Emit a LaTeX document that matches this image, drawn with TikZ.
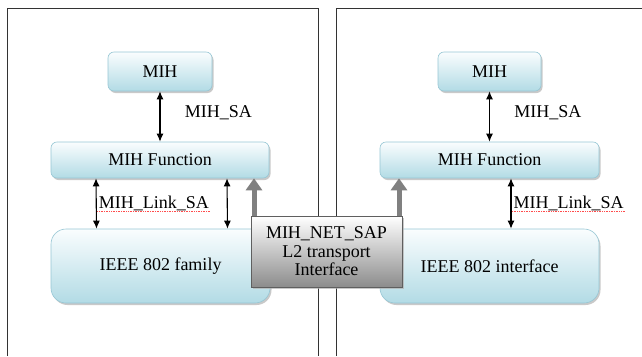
\documentclass[tikz,border=0pt]{standalone}
\usepackage{fontspec}
\setmainfont{Liberation Serif}
\newfontfamily\diagfont{Liberation Serif}
\usetikzlibrary{shapes, arrows.meta, positioning, shadows}
\definecolor{cyanTop}{RGB}{250,253,254}
\definecolor{cyanBot}{RGB}{178,219,229}
\definecolor{cyanLine}{RGB}{150,198,212}
\definecolor{sapBot}{RGB}{140,140,140}
\definecolor{sapLine}{RGB}{95,95,95}
\definecolor{netGray}{RGB}{128,128,128}

\begin{document}
\begin{tikzpicture}[
			x=1pt, y=-1pt,
			font=\diagfont\fontsize{18}{19}\selectfont,
			frame/.style={draw=black!80, line width=.8pt},
			block/.style={rectangle, rounded corners=6pt, draw=cyanLine, line width=.6pt, top color=cyanTop, bottom color=cyanBot, text centered, drop shadow={shadow xshift=1.5pt, shadow yshift=-2pt, fill=black!30, opacity=.7}},
			bigblock/.style={block, rounded corners=15pt, minimum width=219pt, minimum height=74pt},
			sapbox/.style={rectangle, draw=sapLine, line width=.6pt, top color=white, bottom color=sapBot, align=center, font=\diagfont\fontsize{18}{18.5}\selectfont, minimum width=151pt, minimum height=71pt, drop shadow={shadow xshift=1.5pt, shadow yshift=-2pt, fill=black!30, opacity=.7}},
			sa/.style={{Latex[length=8pt, width=7pt]}-{Latex[length=8pt, width=7pt]}, line width=1.1pt},
			netarrow/.style={-{Triangle[width=16pt, length=12pt]}, line width=5pt, netGray},
			squiggle/.style={red!70, densely dotted, line width=.7pt},
			]
			\useasboundingbox (0,0) rectangle (642,356);

			% Frames
			\draw[frame] (7,356) -- (7,8) -- (318,8) -- (318,356);
			\draw[frame] (336,356) -- (336,8) -- (642,8);

			% Nodes
			\node (mihL) [block, minimum width=104pt, minimum height=39pt] at (160,71.5) {MIH};
			\node (funcL) [block, minimum width=218pt, minimum height=36pt] at (160,160) {MIH Function};
			\node (famL) [bigblock] at (160.5,266) {IEEE 802 family};

			\node (mihR) [block, minimum width=103pt, minimum height=39pt] at (489.5,71.5) {MIH};
			\node (funcR) [block, minimum width=219pt, minimum height=36pt] at (489.5,160) {MIH Function};
			\node (ifaceR) [bigblock] at (489.5,266) {IEEE 802 interface};

			% Arrows
			\draw[sa] (mihL) -- node[pos=.43, right=21pt] {MIH\_SA} (funcL);
			\draw[sa] (mihR) -- node[pos=.43, right=21pt] {MIH\_SA} (funcR);
			\draw[sa] ([xshift=-64pt]funcL.south) -- node[midway, right=1pt, inner xsep=1pt] (linkL) {MIH\_Link\_SA} ([xshift=-64pt]famL.north);
			\draw[sa] ([xshift=67pt]funcL.south) -- ([xshift=67pt]famL.north);
			\draw[sa] ([xshift=21.5pt]funcR.south) -- node[midway, right=1pt, inner xsep=1pt] (linkR) {MIH\_Link\_SA} ([xshift=21.5pt]ifaceR.north);
			\draw[squiggle] ([yshift=-3pt]linkL.base west) -- ([yshift=-3pt]linkL.base east);
			\draw[squiggle] ([yshift=-3pt]linkR.base west) -- ([yshift=-3pt]linkR.base east);

			% Transport interface in between
			\node (sap) [sapbox] at (326.5,251.5) {MIH\_NET\_SAP\\L2 transport\\Interface};
			\draw[netarrow] ([xshift=-72.5pt]sap.north) -- ([xshift=-72.5pt]sap.north |- funcL.south);
			\draw[netarrow] ([xshift=72.5pt]sap.north) -- ([xshift=72.5pt]sap.north |- funcR.south);
		\end{tikzpicture}
\end{document}
